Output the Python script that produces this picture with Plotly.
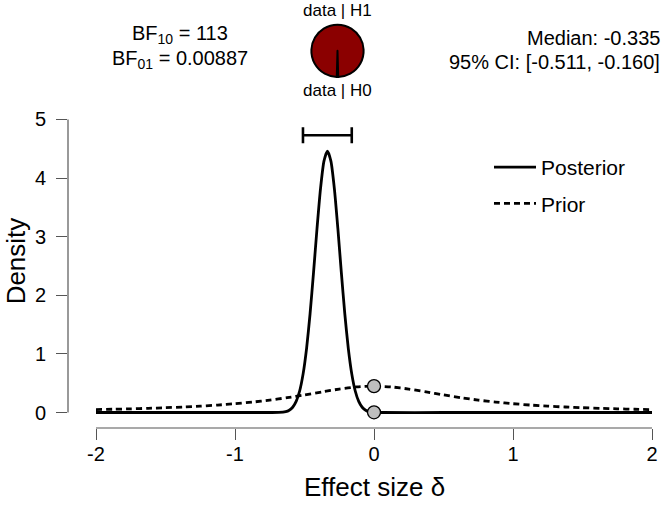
import plotly.graph_objects as go

# ---------------- data ----------------
post_x = [-2.0, -1.5, -1.0, -0.8, -0.735, -0.685, -0.635, -0.61, -0.585, -0.56, -0.535,
          -0.51, -0.485, -0.46, -0.435, -0.41, -0.385, -0.36, -0.335, -0.31, -0.285,
          -0.26, -0.235, -0.21, -0.185, -0.16, -0.135, -0.11, -0.085, -0.06, -0.035,
          0.015, 0.065, 0.5, 1.0, 1.5, 2.0]
post_y = [0, 0, 0, 0, 0.0001, 0.002, 0.016, 0.040, 0.090, 0.189, 0.367,
          0.659, 1.095, 1.682, 2.389, 3.139, 3.815, 4.289, 4.46, 4.289, 3.815,
          3.139, 2.389, 1.682, 1.095, 0.659, 0.367, 0.189, 0.090, 0.040, 0.016,
          0.002, 0.0001, 0, 0, 0, 0]

prior_x = [-2.0, -1.875, -1.75, -1.625, -1.5, -1.375, -1.25, -1.125, -1.0, -0.875, -0.75,
           -0.625, -0.5, -0.375, -0.25, -0.125, 0.0, 0.125, 0.25, 0.375, 0.5, 0.625,
           0.75, 0.875, 1.0, 1.125, 1.25, 1.375, 1.5, 1.625, 1.75, 1.875, 2.0]
prior_y = [0.0500, 0.0560, 0.0632, 0.0716, 0.0818, 0.0941, 0.1091, 0.1274, 0.1500, 0.1778, 0.2118,
           0.2526, 0.3000, 0.3512, 0.4000, 0.4364, 0.4500, 0.4364, 0.4000, 0.3512, 0.3000, 0.2526,
           0.2118, 0.1778, 0.1500, 0.1274, 0.1091, 0.0941, 0.0818, 0.0716, 0.0632, 0.0560, 0.0500]

point_x = [0.0, 0.0]
point_y = [0.450, 0.004]          # prior and posterior density at delta = 0

median = -0.335
ci_lower = -0.511
ci_upper = -0.160
ci_bar_height = 4.73

bf10 = 113
bf01 = 0.00887
pie_labels = ["data | H0", "data | H1"]
pie_values = [bf01, 1.0]

x_ticks = [-2, -1, 0, 1, 2]
y_ticks = [0, 1, 2, 3, 4, 5]

# ---------------- layout helpers ----------------
W, H = 668, 507
ML, MR, MT, MB = 68, 8, 0, 79
PW, PH = W - ML - MR, H - MT - MB


def px_x(px):
    return (px - ML) / PW


def px_y(py):
    return (PH - (py - MT)) / PH


FONT = "Liberation Sans, Arial, Helvetica, sans-serif"
AX = "#555555"

fig = go.Figure()

fig.add_trace(go.Scatter(
    x=post_x, y=post_y, mode="lines", name="Posterior",
    line=dict(color="black", width=2.8, shape="spline", smoothing=0.6),
    legendgroup="a", hoverinfo="skip"))
fig.add_trace(go.Scatter(
    x=prior_x, y=prior_y, mode="lines", name="Prior",
    line=dict(color="black", width=2.8, dash="6px,4px", shape="spline", smoothing=0.6),
    legendgroup="b", hoverinfo="skip"))
fig.add_trace(go.Scatter(
    x=point_x, y=point_y, mode="markers", showlegend=False, hoverinfo="skip",
    marker=dict(size=13, color="#BEBEBE", line=dict(color="black", width=1.3))))
fig.add_trace(go.Scatter(
    x=[median], y=[ci_bar_height], mode="markers", showlegend=False, hoverinfo="skip",
    marker=dict(size=1, color="rgba(0,0,0,0)"),
    error_x=dict(type="data", symmetric=False, array=[ci_upper - median],
                 arrayminus=[median - ci_lower], color="black", thickness=2.6, width=8)))

half_angle = 360 * pie_values[0] / sum(pie_values) / 2
fig.add_trace(go.Pie(
    labels=pie_labels, values=pie_values, sort=False, direction="clockwise",
    rotation=180 - half_angle, textinfo="none", hoverinfo="skip", showlegend=False,
    marker=dict(colors=["white", "#8B0000"], line=dict(color="black", width=2)),
    domain=dict(x=[px_x(311), px_x(364)], y=[px_y(72), px_y(19)])))

x0 = -2 - (96 - ML) / 139.0
x1 = x0 + PW / 139.0
y0 = -(428 - 412.3) / 59.46
y1 = (412.3 - 110) / 59.46

fig.update_layout(
    width=W, height=H, margin=dict(l=ML, r=MR, t=MT, b=MB),
    paper_bgcolor="white", plot_bgcolor="white",
    font=dict(family=FONT, color="black"),
    xaxis=dict(range=[x0, x1], tickvals=x_ticks, ticktext=[str(v) for v in x_ticks],
               showgrid=False, zeroline=False, showline=False, ticks="outside",
               ticklen=11, tickwidth=1.2, tickcolor=AX, tickfont=dict(size=20),
               ticklabelstandoff=-3, fixedrange=True),
    yaxis=dict(range=[y0, y1], domain=[0, px_y(110)], tickvals=y_ticks,
               ticktext=[str(v) for v in y_ticks],
               showgrid=False, zeroline=False, showline=False, ticks="outside",
               ticklen=11, tickwidth=1.2, tickcolor=AX, tickfont=dict(size=20),
               ticklabelstandoff=6, fixedrange=True),
    legend=dict(x=px_x(489), y=px_y(143), xanchor="left", yanchor="top",
                font=dict(size=21), bgcolor="rgba(0,0,0,0)", tracegroupgap=6,
                traceorder="grouped", itemwidth=42),
    showlegend=True,
)

# detached axis lines (R style)
fig.add_shape(type="line", xref="paper", yref="y", x0=0, x1=0, y0=0, y1=5,
              line=dict(color=AX, width=1.2))
fig.add_shape(type="line", xref="x", yref="paper", x0=-2, x1=2, y0=0, y1=0,
              line=dict(color=AX, width=1.2))

ann = [
    dict(text="Density", x=px_x(16), y=px_y(259), textangle=-90, font=dict(size=26)),
    dict(text="Effect size δ", x=px_x(374), y=px_y(488), font=dict(size=26)),
    dict(text=f"BF<sub>10</sub> = {bf10}", x=px_x(180), y=px_y(29), font=dict(size=20)),
    dict(text=f"BF<sub>01</sub> = {bf01}", x=px_x(180), y=px_y(54), font=dict(size=20)),
    dict(text=f"Median: {median:.3f}", x=px_x(662), y=px_y(32), font=dict(size=20),
         xanchor="right"),
    dict(text=f"95% CI: [{ci_lower:.3f}, {ci_upper:.3f}]", x=px_x(662), y=px_y(57),
         font=dict(size=20), xanchor="right"),
    dict(text=pie_labels[1], x=px_x(337.5), y=px_y(5), font=dict(size=17)),
    dict(text=pie_labels[0], x=px_x(337.5), y=px_y(86), font=dict(size=17)),
]
for a in ann:
    a.setdefault("xanchor", "center")
    a.setdefault("yanchor", "middle")
    fig.add_annotation(xref="paper", yref="paper", showarrow=False, **a)

fig.write_html("out.html", config={"displayModeBar": False},
               post_script="document.body.style.margin='0';")
